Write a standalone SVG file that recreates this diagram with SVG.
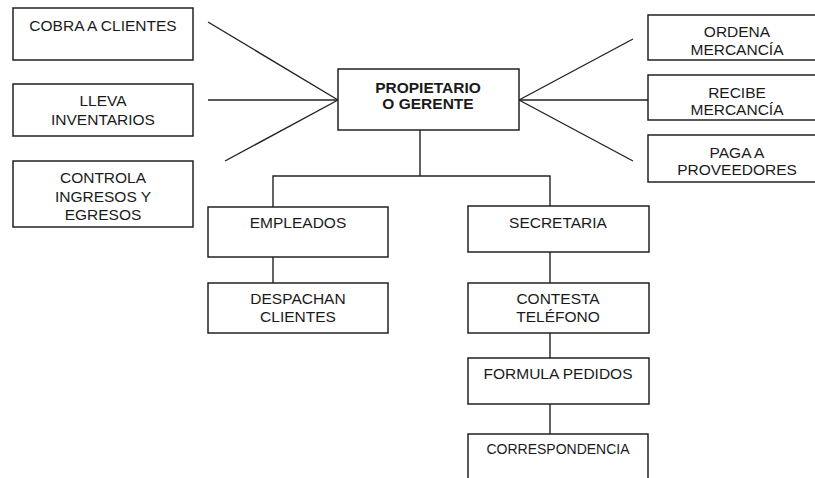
<svg xmlns="http://www.w3.org/2000/svg" width="815" height="478" viewBox="0 0 815 478">
<style>
.box{fill:#fff;stroke:#222;stroke-width:1.5}
.ln{stroke:#222;stroke-width:1.4;fill:none}
text{font-family:"Liberation Sans",Arial,sans-serif;font-size:15.5px;fill:#1a1a1a;text-anchor:middle}
.b{font-weight:bold}
</style>
<rect width="815" height="478" fill="#fff"/>
<g id="connectors">
<line class="ln" x1="208" y1="22" x2="338" y2="100"/>
<line class="ln" x1="208" y1="100" x2="338" y2="100"/>
<line class="ln" x1="225" y1="161" x2="338" y2="100"/>
<line class="ln" x1="633" y1="39" x2="519" y2="100"/>
<line class="ln" x1="648" y1="100" x2="519" y2="100"/>
<line class="ln" x1="633" y1="161" x2="519" y2="100"/>
<line class="ln" x1="420" y1="130" x2="420" y2="176"/>
<polyline class="ln" points="273,207 273,176 550,176 550,206"/>
<line class="ln" x1="273" y1="252" x2="273" y2="283"/>
<line class="ln" x1="550" y1="252" x2="550" y2="283"/>
<line class="ln" x1="550" y1="333" x2="550" y2="358"/>
<line class="ln" x1="550" y1="404" x2="550" y2="434"/>
</g>
<g id="cobra"><rect class="box" x="13" y="8" width="180" height="52"/><text x="103" y="31">COBRA A CLIENTES</text></g>
<g id="lleva"><rect class="box" x="13" y="84" width="180" height="52"/><text x="103" y="106">LLEVA</text><text x="103" y="125">INVENTARIOS</text></g>
<g id="controla"><rect class="box" x="13" y="161" width="180" height="66"/><text x="103" y="183">CONTROLA</text><text x="103" y="202">INGRESOS Y</text><text x="103" y="220">EGRESOS</text></g>
<g id="propietario"><rect class="box" x="338" y="69" width="181" height="61"/><text class="b" x="428" y="93">PROPIETARIO</text><text class="b" x="428" y="109">O GERENTE</text></g>
<g id="ordena"><rect class="box" x="648" y="15" width="180" height="45"/><text x="737" y="37">ORDENA</text><text x="737" y="55">MERCANCÍA</text></g>
<g id="recibe"><rect class="box" x="648" y="75" width="180" height="45"/><text x="737" y="98">RECIBE</text><text x="737" y="115">MERCANCÍA</text></g>
<g id="paga"><rect class="box" x="648" y="135" width="180" height="47"/><text x="737" y="158">PAGA A</text><text x="737" y="175">PROVEEDORES</text></g>
<g id="empleados"><rect class="box" x="208" y="207" width="180" height="50"/><text x="298" y="228">EMPLEADOS</text></g>
<g id="despachan"><rect class="box" x="208" y="283" width="180" height="50"/><text x="298" y="304">DESPACHAN</text><text x="298" y="322">CLIENTES</text></g>
<g id="secretaria"><rect class="box" x="468" y="206" width="181" height="46"/><text x="558" y="228">SECRETARIA</text></g>
<g id="contesta"><rect class="box" x="468" y="283" width="181" height="50"/><text x="558" y="304">CONTESTA</text><text x="558" y="322">TELÉFONO</text></g>
<g id="formula"><rect class="box" x="468" y="358" width="181" height="46"/><text x="558" y="379">FORMULA PEDIDOS</text></g>
<g id="correspondencia"><rect class="box" x="468" y="434" width="180" height="60"/><text x="558" y="454" style="font-size:14px">CORRESPONDENCIA</text></g>
</svg>
